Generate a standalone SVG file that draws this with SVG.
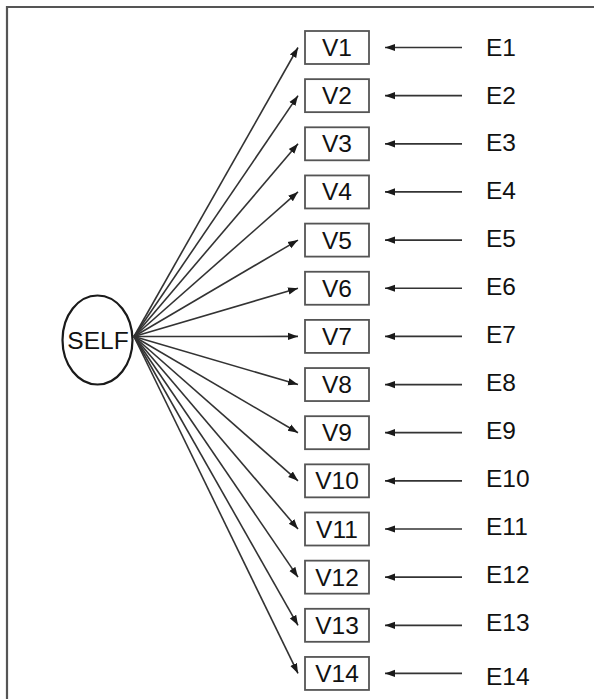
<svg xmlns="http://www.w3.org/2000/svg" width="594" height="699" viewBox="0 0 594 699">
<defs>
<marker id="ah" markerUnits="userSpaceOnUse" markerWidth="11" markerHeight="9" refX="10" refY="4.5" orient="auto">
<path d="M0,0.9 L10,4.5 L0,8.1 Z" fill="#1a1a1a"/>
</marker>
</defs>
<style>
.frame{fill:none;stroke:#555;stroke-width:2.2}
.box{fill:#fff;stroke:#555;stroke-width:1.8}
.ell{fill:#fff;stroke:#1a1a1a;stroke-width:2.2}
.fan{stroke:#333;stroke-width:1.6;fill:none;marker-end:url(#ah)}
.err{stroke:#333;stroke-width:1.7;fill:none;marker-end:url(#ah)}
text{font-family:"Liberation Sans",Arial,sans-serif;font-size:24.5px;fill:#111}
.mid{text-anchor:middle}
</style>
<rect width="594" height="699" fill="#fff"/>
<path class="frame" d="M7,699 V7 H594"/>
<g id="connectors">
<line class="fan" x1="134" y1="336.5" x2="298" y2="47.5"/>
<line class="fan" x1="134" y1="336.5" x2="298" y2="95.65"/>
<line class="fan" x1="134" y1="336.5" x2="298" y2="143.8"/>
<line class="fan" x1="134" y1="336.5" x2="298" y2="191.95"/>
<line class="fan" x1="134" y1="336.5" x2="298" y2="240.1"/>
<line class="fan" x1="134" y1="336.5" x2="298" y2="288.25"/>
<line class="fan" x1="134" y1="336.5" x2="298" y2="336.4"/>
<line class="fan" x1="134" y1="336.5" x2="298" y2="384.55"/>
<line class="fan" x1="134" y1="336.5" x2="298" y2="432.7"/>
<line class="fan" x1="134" y1="336.5" x2="298" y2="480.85"/>
<line class="fan" x1="134" y1="336.5" x2="298" y2="529"/>
<line class="fan" x1="134" y1="336.5" x2="298" y2="577.15"/>
<line class="fan" x1="134" y1="336.5" x2="298" y2="625.3"/>
<line class="fan" x1="134" y1="336.5" x2="298" y2="673.45"/>
<line class="err" x1="462" y1="47.5" x2="385" y2="47.5"/>
<line class="err" x1="462" y1="95.65" x2="385" y2="95.65"/>
<line class="err" x1="462" y1="143.8" x2="385" y2="143.8"/>
<line class="err" x1="462" y1="191.95" x2="385" y2="191.95"/>
<line class="err" x1="462" y1="240.1" x2="385" y2="240.1"/>
<line class="err" x1="462" y1="288.25" x2="385" y2="288.25"/>
<line class="err" x1="462" y1="336.4" x2="385" y2="336.4"/>
<line class="err" x1="462" y1="384.55" x2="385" y2="384.55"/>
<line class="err" x1="462" y1="432.7" x2="385" y2="432.7"/>
<line class="err" x1="462" y1="480.85" x2="385" y2="480.85"/>
<line class="err" x1="462" y1="529" x2="385" y2="529"/>
<line class="err" x1="462" y1="577.15" x2="385" y2="577.15"/>
<line class="err" x1="462" y1="625.3" x2="385" y2="625.3"/>
<line class="err" x1="462" y1="673.45" x2="385" y2="673.45"/>
</g>
<g id="SELF"><ellipse class="ell" cx="97.5" cy="340" rx="35" ry="44.5"/><text class="mid" x="98" y="349">SELF</text></g>
<g id="V1"><rect class="box" x="305" y="31" width="64" height="33"/><text class="mid" x="337" y="56">V1</text></g>
<g id="V2"><rect class="box" x="305" y="79.15" width="64" height="33"/><text class="mid" x="337" y="104.15">V2</text></g>
<g id="V3"><rect class="box" x="305" y="127.3" width="64" height="33"/><text class="mid" x="337" y="152.3">V3</text></g>
<g id="V4"><rect class="box" x="305" y="175.45" width="64" height="33"/><text class="mid" x="337" y="200.45">V4</text></g>
<g id="V5"><rect class="box" x="305" y="223.6" width="64" height="33"/><text class="mid" x="337" y="248.6">V5</text></g>
<g id="V6"><rect class="box" x="305" y="271.75" width="64" height="33"/><text class="mid" x="337" y="296.75">V6</text></g>
<g id="V7"><rect class="box" x="305" y="319.9" width="64" height="33"/><text class="mid" x="337" y="344.9">V7</text></g>
<g id="V8"><rect class="box" x="305" y="368.05" width="64" height="33"/><text class="mid" x="337" y="393.05">V8</text></g>
<g id="V9"><rect class="box" x="305" y="416.2" width="64" height="33"/><text class="mid" x="337" y="441.2">V9</text></g>
<g id="V10"><rect class="box" x="305" y="464.35" width="64" height="33"/><text class="mid" x="337" y="489.35">V10</text></g>
<g id="V11"><rect class="box" x="305" y="512.5" width="64" height="33"/><text class="mid" x="337" y="537.5">V11</text></g>
<g id="V12"><rect class="box" x="305" y="560.65" width="64" height="33"/><text class="mid" x="337" y="585.65">V12</text></g>
<g id="V13"><rect class="box" x="305" y="608.8" width="64" height="33"/><text class="mid" x="337" y="633.8">V13</text></g>
<g id="V14"><rect class="box" x="305" y="656.95" width="64" height="33"/><text class="mid" x="337" y="681.95">V14</text></g>
<g id="E1"><text x="486" y="55.6">E1</text></g>
<g id="E2"><text x="486" y="103.5">E2</text></g>
<g id="E3"><text x="486" y="151.4">E3</text></g>
<g id="E4"><text x="486" y="199.4">E4</text></g>
<g id="E5"><text x="486" y="247.3">E5</text></g>
<g id="E6"><text x="486" y="295.2">E6</text></g>
<g id="E7"><text x="486" y="343.1">E7</text></g>
<g id="E8"><text x="486" y="391">E8</text></g>
<g id="E9"><text x="486" y="439">E9</text></g>
<g id="E10"><text x="486" y="486.9">E10</text></g>
<g id="E11"><text x="486" y="534.8">E11</text></g>
<g id="E12"><text x="486" y="582.7">E12</text></g>
<g id="E13"><text x="486" y="630.6">E13</text></g>
<g id="E14"><text x="486" y="684.6">E14</text></g>
</svg>
